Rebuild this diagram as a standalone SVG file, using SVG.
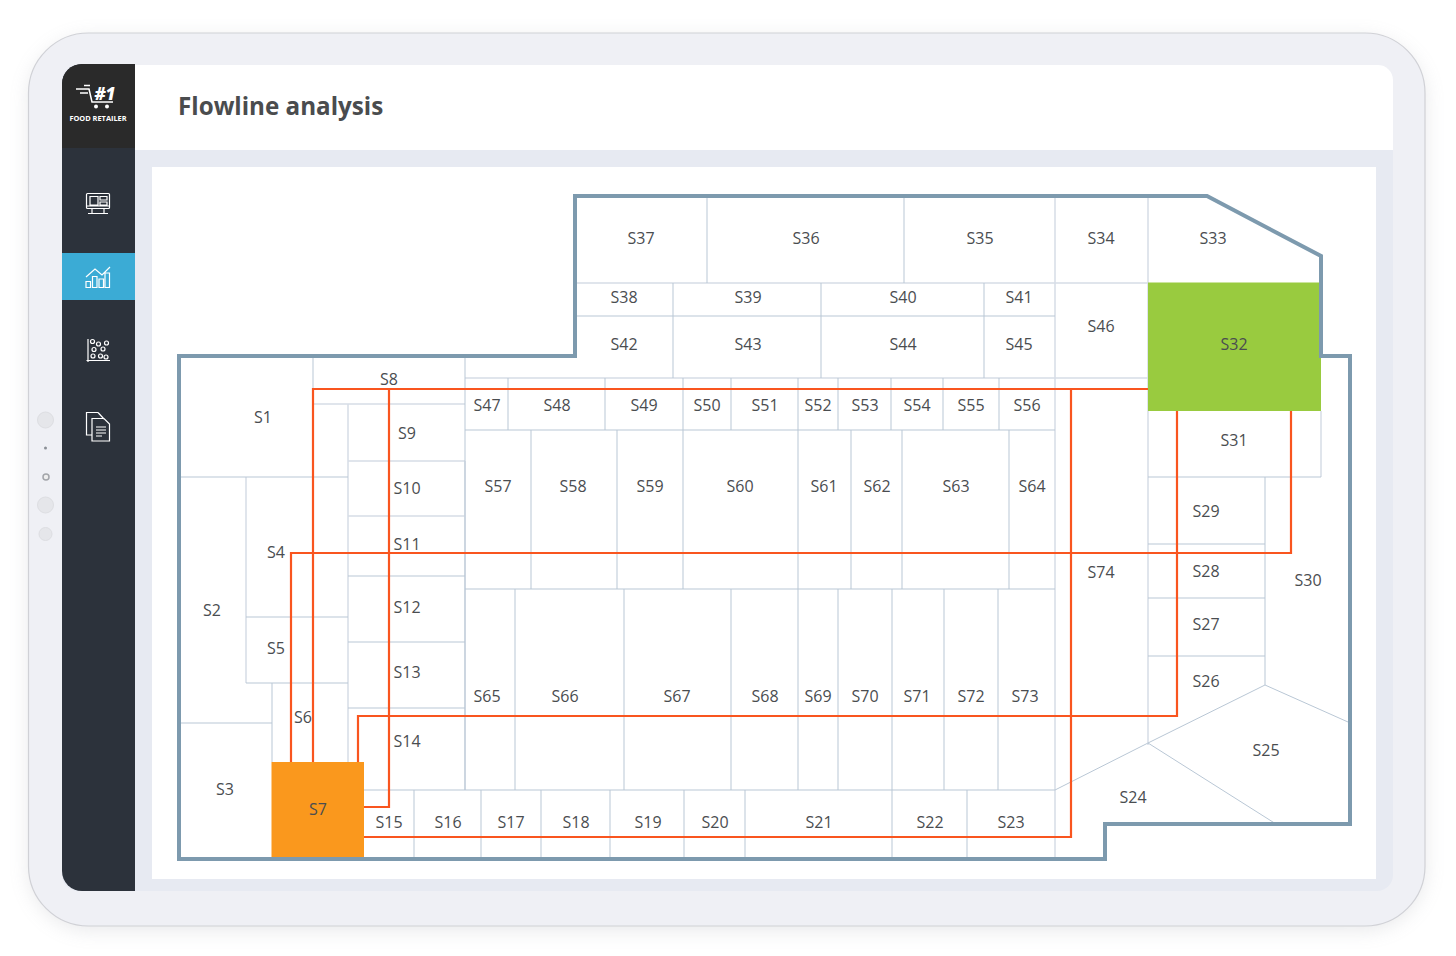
<svg xmlns="http://www.w3.org/2000/svg" width="1456" height="956" viewBox="0 0 1456 956">
<style>
text{font-family:"Open Sans","Noto Sans","Liberation Sans",sans-serif}
.l{font-size:16px;fill:#4a4d50;text-anchor:middle}
.w{fill:none;stroke:#b9c7d5;stroke-width:1}
.wt{fill:none;stroke:#d6dde6;stroke-width:1.500}
.f{fill:none;stroke:#f9551f;stroke-width:2.200}
.i{fill:none;stroke:#fff;stroke-width:1.200}
.b{fill:#e5e6ea;stroke:#dddee2;stroke-width:1}
</style>
<defs>
<filter id="sh" x="-5%" y="-5%" width="110%" height="110%"><feGaussianBlur stdDeviation="10"/></filter>
</defs>
<rect x="29" y="38" width="1396" height="892" rx="62" fill="#8a8d96" opacity=".2" filter="url(#sh)"/>
<g id="device">
<rect x="28.500" y="33" width="1396.500" height="893" rx="60" fill="#eff0f5" stroke="#d0d1d6" stroke-width="1.200"/>
<rect x="62" y="65" width="1331" height="826" rx="16" fill="#e7eaf2"/>
<path d="M135 65H1378a15 15 0 0 1 15 15V150H135Z" fill="#fff"/>
<rect x="152" y="167" width="1224" height="712" fill="#fff"/>
<circle class="b" cx="45.500" cy="420" r="8"/><circle cx="45.500" cy="448" r="1.500" fill="#8b8f96"/>
<circle cx="46" cy="477" r="3" fill="#eee" stroke="#a3a5aa" stroke-width="1.500"/>
<circle class="b" cx="45.500" cy="505" r="8"/><circle class="b" cx="45.500" cy="534" r="6.500"/>
</g>
<g id="sidebar">
<path d="M82 64H135V891H82a20 20 0 0 1-20-20V84a20 20 0 0 1 20-20Z" fill="#2c323b"/>
<path d="M82 64H135V148H62V84a20 20 0 0 1 20-20Z" fill="#2a2a2a"/>
<rect x="62" y="253" width="73" height="47" fill="#3babd5"/>
<g id="logo">
<path d="M76 89H89L92 102H113M80 93H88M84 85.500H90" fill="none" stroke="#fff" stroke-width="1.500"/>
<circle cx="96" cy="106.500" r="2" fill="#fff"/><circle cx="107" cy="106.500" r="2" fill="#fff"/>
<text x="105" y="100" font-size="17" font-weight="800" font-style="italic" fill="#fff" text-anchor="middle">#1</text>
<text x="98" y="121" font-size="7.400" font-weight="700" fill="#fff" text-anchor="middle">FOOD RETAILER</text>
</g>
<g id="icon-monitor" class="i">
<rect x="86.500" y="193.500" width="23" height="15" rx="1"/><path d="M90 196.500H98V205H90ZM100 196.500H107V200H100ZM100 202H107V205H100ZM92 208.500V213M104 208.500V213M88 213.500H108M87 206H109"/>
</g>
<g id="icon-chart" class="i">
<path d="M86 277L95 269L102 275L110 267M86 281.500H90.500V287.500H86ZM92.500 276.500H97V287.500H92.500ZM99 279H103.500V287.500H99ZM105 273H109.500V287.500H105Z"/>
</g>
<g id="icon-scatter" class="i">
<path d="M88 339V362M86.500 360.500H110"/>
<circle cx="92.500" cy="341.500" r="2"/><circle cx="98.500" cy="344" r="2"/><circle cx="106.500" cy="343" r="2"/><circle cx="94" cy="349.500" r="2"/><circle cx="103" cy="349" r="2"/><circle cx="93" cy="356" r="2"/><circle cx="100.500" cy="356" r="2"/><circle cx="106" cy="357" r="2"/>
</g>
<g id="icon-doc" class="i">
<path d="M98 412.500H86.500V435H92M98 412.500L104 419M92 418.500H104L109.500 424V441H92Z"/>
<path d="M96 427H106M96 430H106M96 433H106M96 436H102"/>
</g>
</g>
<text id="title" x="178" y="115" font-size="24.200" font-weight="700" fill="#4a4c4e">Flowline analysis</text>
<g id="plan">
<path class="wt" d="M1148 196V745M1055 196V859M246 477V683M348 404V762M465 461V790"/>
<path class="wt" d="M348 461H465M348 516H465M313 404H465"/>
<path class="wt" d="M577 283H1148M465 378H1148M1321 411V477"/>
<path class="w" d="M707 196V283M904 196V283M673 283V378M821 283V378M984 283V378M577 316H1055"/>
<path class="w" d="M313 358V477M180 477H348M246 617H348M246 683H348M272 683V762M180 723H272M348 576H465M348 642H465M348 708H465M465 356V790"/>
<path class="w" d="M508 378V430M605 378V430M683 378V430M731 378V430M798 378V430M838 378V430M891 378V430M943 378V430M999 378V430M465 430H1055"/>
<path class="w" d="M531 430V589M617 430V589M683 430V589M798 430V589M851 430V589M902 430V589M1009 430V589M465 589H1055"/>
<path class="w" d="M515 589V790M624 589V790M731 589V790M798 589V790M838 589V790M892 589V790M944 589V790M998 589V790M364 790H1055"/>
<path class="w" d="M414 790V859M481 790V859M541 790V859M610 790V859M684 790V859M745 790V859M892 790V859M967 790V859"/>
<path class="w" d="M1148 477H1321M1265 477V685M1148 544H1265M1148 598H1265M1148 656H1265M1055 790L1148 743L1265 685L1348 722M1148 743L1276 824"/>
<path id="s7-fill" d="M271.500 762H364V858H271.500Z" fill="#fa981d"/>
<path id="s32-fill" d="M1148 282.500H1321V411H1148Z" fill="#99cb3f"/>
<path id="outline" d="M179 356H575V196H1207L1321 256V356H1350V824H1105V859H179Z" fill="none" stroke="#7d9aae" stroke-width="4"/>
</g>
<g id="connectors">
<path class="f" d="M1148 389H313V762"/>
<path class="f" d="M389 389V807H364"/>
<path class="f" d="M1071 389V837H364"/>
<path class="f" d="M291 762V553H1291V411"/>
<path class="f" d="M358 762V716H1177V411"/>
</g>
<g id="labels">
<text class="l" x="263" y="423">S1</text><text class="l" x="212" y="616">S2</text><text class="l" x="225" y="795">S3</text><text class="l" x="276" y="558">S4</text><text class="l" x="276" y="654">S5</text><text class="l" x="303" y="723">S6</text><text class="l" x="318" y="815">S7</text><text class="l" x="389" y="385">S8</text>
<text class="l" x="407" y="439">S9</text><text class="l" x="407" y="494">S10</text><text class="l" x="407" y="550">S11</text><text class="l" x="407" y="613">S12</text><text class="l" x="407" y="678">S13</text><text class="l" x="407" y="747">S14</text>
<text class="l" x="389" y="828">S15</text><text class="l" x="448" y="828">S16</text><text class="l" x="511" y="828">S17</text><text class="l" x="576" y="828">S18</text><text class="l" x="648" y="828">S19</text><text class="l" x="715" y="828">S20</text><text class="l" x="819" y="828">S21</text><text class="l" x="930" y="828">S22</text><text class="l" x="1011" y="828">S23</text>
<text class="l" x="1133" y="802.500">S24</text><text class="l" x="1266" y="756">S25</text><text class="l" x="1206" y="687">S26</text><text class="l" x="1206" y="630">S27</text><text class="l" x="1206" y="577">S28</text><text class="l" x="1206" y="517">S29</text><text class="l" x="1308" y="586">S30</text><text class="l" x="1234" y="446">S31</text><text class="l" x="1234" y="350">S32</text>
<text class="l" x="1213" y="244">S33</text><text class="l" x="1101" y="244">S34</text><text class="l" x="980" y="244">S35</text><text class="l" x="806" y="244">S36</text><text class="l" x="641" y="244">S37</text>
<text class="l" x="624" y="303">S38</text><text class="l" x="748" y="303">S39</text><text class="l" x="903" y="303">S40</text><text class="l" x="1019" y="303">S41</text><text class="l" x="624" y="350">S42</text><text class="l" x="748" y="350">S43</text><text class="l" x="903" y="350">S44</text><text class="l" x="1019" y="350">S45</text><text class="l" x="1101" y="332">S46</text>
<text class="l" x="487" y="411">S47</text><text class="l" x="557" y="411">S48</text><text class="l" x="644" y="411">S49</text><text class="l" x="707" y="411">S50</text><text class="l" x="765" y="411">S51</text><text class="l" x="818" y="411">S52</text><text class="l" x="865" y="411">S53</text><text class="l" x="917" y="411">S54</text><text class="l" x="971" y="411">S55</text><text class="l" x="1027" y="411">S56</text>
<text class="l" x="498" y="492">S57</text><text class="l" x="573" y="492">S58</text><text class="l" x="650" y="492">S59</text><text class="l" x="740" y="492">S60</text><text class="l" x="824" y="492">S61</text><text class="l" x="877" y="492">S62</text><text class="l" x="956" y="492">S63</text><text class="l" x="1032" y="492">S64</text>
<text class="l" x="487" y="702">S65</text><text class="l" x="565" y="702">S66</text><text class="l" x="677" y="702">S67</text><text class="l" x="765" y="702">S68</text><text class="l" x="818" y="702">S69</text><text class="l" x="865" y="702">S70</text><text class="l" x="917" y="702">S71</text><text class="l" x="971" y="702">S72</text><text class="l" x="1025" y="702">S73</text><text class="l" x="1101" y="578">S74</text>
</g>
</svg>
